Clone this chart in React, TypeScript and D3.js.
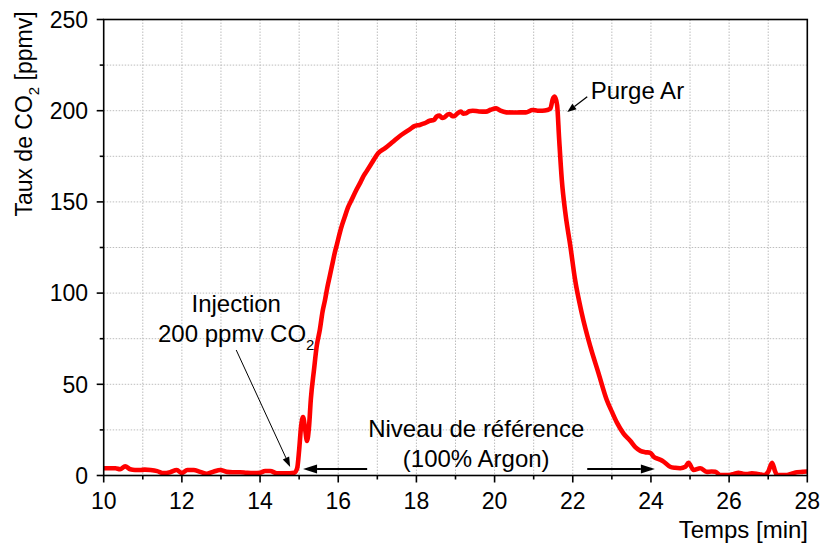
import React from "react";
import * as d3 from "d3";

const times = [
  10.0, 10.15, 10.3, 10.42, 10.55, 10.68, 10.8, 10.93, 11.05, 11.2, 11.37, 11.53, 11.7, 11.87, 12.0, 12.14, 12.3,
  12.47, 12.64, 12.82, 12.98, 13.15, 13.3, 13.49, 13.65, 13.83, 14.0, 14.13, 14.26, 14.43, 14.6, 14.75, 14.88,
  14.95, 15.0, 15.05, 15.1, 15.15, 15.2, 15.25, 15.3, 15.38, 15.45, 15.53, 15.6, 15.66, 15.72, 15.78, 15.85,
  15.91, 15.97, 16.04, 16.1, 16.17, 16.25, 16.34, 16.45, 16.55, 16.63, 16.72, 16.85, 17.02, 17.2, 17.4, 17.57,
  17.74, 17.83, 17.95, 18.08, 18.2, 18.34, 18.45, 18.52, 18.59, 18.66, 18.72, 18.8, 18.85, 18.92, 18.97, 19.05,
  19.14, 19.2, 19.27, 19.35, 19.44, 19.6, 19.78, 19.9, 20.04, 20.15, 20.3, 20.5, 20.65, 20.8, 20.97, 21.1,
  21.22, 21.35, 21.43, 21.49, 21.54, 21.6, 21.65, 21.72, 21.81, 21.94, 22.06, 22.23, 22.45, 22.66, 22.87,
  23.0, 23.13, 23.3, 23.47, 23.6, 23.73, 23.85, 23.98, 24.07, 24.2, 24.3, 24.49, 24.62, 24.75, 24.88, 24.96,
  25.09, 25.26, 25.43, 25.55, 25.65, 25.77, 26.0, 26.12, 26.24, 26.35, 26.45, 26.58, 26.7, 26.82, 26.9, 27.0,
  27.1, 27.18, 27.23, 27.48, 27.6, 27.74, 27.88, 28.0,
];

const co2 = [
  4, 4, 4, 3.4, 5, 3.4, 3, 3, 3.2, 3, 2.4, 1.3, 1.8, 3, 1.3, 3, 3,
  2, 1, 2.2, 3, 2, 1.8, 1.8, 1.5, 1.3, 1.5, 2.5, 2.5, 1.2, 1.2, 1.2, 1.5,
  4, 14, 27, 32, 26, 19, 26, 42, 58, 71, 80, 90, 96, 103, 109, 116,
  122, 127, 133, 137.5, 142, 147, 151, 156, 160, 163.5, 166.6, 171, 176.7, 179.5, 183, 186,
  188.5, 189.8, 191.5, 192.2, 193, 194.5, 195, 196.8, 197.3, 196, 196.4, 197.9, 198.2, 197, 197, 198.6,
  199.5, 198.4, 198.6, 199.7, 200, 199.6, 199.5, 200.5, 201.3, 200, 199.1, 199, 199.1, 199.1, 200.4, 200,
  200, 200.4, 201.3, 206.5, 207.7, 203, 185, 162, 144, 125.5, 107.2, 89, 70.6, 56, 41.4,
  35, 29, 23, 19, 15.5, 13.5, 12.8, 12.5, 10.3, 9, 8, 4.8, 4.2, 4, 4.8, 7,
  3, 4, 2, 2.2, 2, 0.3, 0.3, 0.8, 1.5, 1, 0.8, 1.2, 1, 0.5, 0.3, 2,
  7, 2, 0.3, 0.3, 1, 1.8, 2, 2.2,
];

const xTickLabels = [10, 12, 14, 16, 18, 20, 22, 24, 26, 28];
const yTickLabels = [0, 50, 100, 150, 200, 250];
const xMinor = d3.range(10, 28.01, 1);
const yMinor = d3.range(0, 250.01, 25);

const FONT = "'Liberation Sans', Arial, sans-serif";
const W = 821;
const H = 546;
const left = 103.7;
const right = 807.3;
const top = 19.5;
const bottom = 475.5;

export default function App() {
  const x = d3.scaleLinear().domain([10, 28]).range([left, right]);
  const y = d3.scaleLinear().domain([0, 250]).range([bottom, top]);
  const pts = times.map((t, i) => [t, co2[i]] as [number, number]);
  const line = d3
    .line<[number, number]>()
    .x((d) => x(d[0]))
    .y((d) => y(d[1]))
    .curve(d3.curveMonotoneX);

  const arrowLine = (x1: number, y1: number, x2: number, y2: number, w: number, hl: number, hw: number, key: string) => {
    const X1 = x(x1), Y1 = y(y1), X2 = x(x2), Y2 = y(y2);
    const ang = Math.atan2(Y2 - Y1, X2 - X1);
    const bx = X2 - hl * Math.cos(ang);
    const by = Y2 - hl * Math.sin(ang);
    const px = -Math.sin(ang) * hw;
    const py = Math.cos(ang) * hw;
    return (
      <g key={key}>
        <line x1={X1} y1={Y1} x2={bx} y2={by} stroke="#000" strokeWidth={w} />
        <path d={`M${X2},${Y2} L${bx + px},${by + py} L${bx - px},${by - py} Z`} fill="#000" />
      </g>
    );
  };

  return (
    <svg width={W} height={H} style={{ position: "absolute", left: 0, top: 0, background: "#fff" }} fontFamily={FONT}>
      <defs>
        <clipPath id="plot">
          <rect x={left} y={top - 10} width={right - left} height={bottom - top + 10} />
        </clipPath>
      </defs>
      {/* grid */}
      <g stroke="#bdbdbd" strokeWidth={1} strokeDasharray="1.5,1.5">
        {xMinor.slice(1, -1).map((v) => (
          <line key={"gx" + v} x1={x(v)} x2={x(v)} y1={top} y2={bottom} />
        ))}
        {yMinor.slice(1, -1).map((v) => (
          <line key={"gy" + v} x1={left} x2={right} y1={y(v)} y2={y(v)} />
        ))}
      </g>
      {/* data line */}
      <path
        d={line(pts) || ""}
        fill="none"
        stroke="#ff0000"
        strokeWidth={4.6}
        strokeLinejoin="round"
        strokeLinecap="round"
        clipPath="url(#plot)"
      />
      {/* frame */}
      <rect x={left} y={top} width={right - left} height={bottom - top} fill="none" stroke="#000" strokeWidth={1.6} />
      {/* ticks */}
      <g stroke="#000" strokeWidth={1.6}>
        {xMinor.map((v) => (
          <line key={"tx" + v} x1={x(v)} x2={x(v)} y1={bottom} y2={bottom + (v % 2 === 0 ? 7 : 4)} />
        ))}
        {yMinor.map((v) => (
          <line key={"ty" + v} x1={left} x2={left - (v % 50 === 0 ? 7 : 4)} y1={y(v)} y2={y(v)} />
        ))}
      </g>
      <g fontSize={23} fill="#000">
        {xTickLabels.map((v) => (
          <text key={"lx" + v} x={x(v)} y={508.5} textAnchor="middle">
            {v}
          </text>
        ))}
        {yTickLabels.map((v) => (
          <text key={"ly" + v} x={88} y={y(v) + 8.2} textAnchor="end">
            {v}
          </text>
        ))}
      </g>
      {/* axis titles */}
      <text x={808} y={538} textAnchor="end" fontSize={24}>
        Temps [min]
      </text>
      <text transform={`translate(32,114) rotate(-90)`} textAnchor="middle" fontSize={23}>
        Taux de CO<tspan fontSize={15} dy={7}>2</tspan>
        <tspan dy={-7}> [ppmv]</tspan>
      </text>
      {/* annotations */}
      <g fontSize={24}>
        <text x={x(13.39)} y={y(89.8)} textAnchor="middle">
          Injection
        </text>
        <text x={x(13.39)} y={y(73.4)} textAnchor="middle">
          200 ppmv CO<tspan fontSize={15} dy={8}>2</tspan>
        </text>
        <text x={x(19.53)} y={y(20.9)} textAnchor="middle">
          Niveau de référence
        </text>
        <text x={x(19.53)} y={y(4.66)} textAnchor="middle">
          (100% Argon)
        </text>
        <text x={x(22.46)} y={y(206.5)}>
          Purge Ar
        </text>
      </g>
      {arrowLine(13.39, 68.8, 14.77, 4.66, 1, 10, 3.5, "inj")}
      {arrowLine(16.74, 3.56, 15.1, 3.56, 2.2, 14, 4.5, "la")}
      {arrowLine(22.37, 3.56, 24.1, 3.56, 2.2, 14, 4.5, "ra")}
      {arrowLine(22.37, 207.6, 21.86, 199.3, 1.3, 9, 3.5, "pa")}
    </svg>
  );
}
